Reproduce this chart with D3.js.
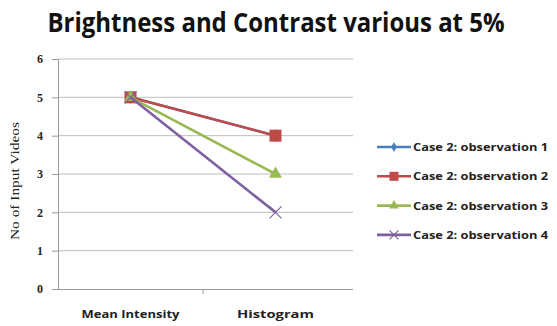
<!DOCTYPE html>
<html>
<head>
<meta charset="utf-8">
<script src="https://cdn.jsdelivr.net/npm/d3@7"></script>
<style>
  html, body { margin: 0; padding: 0; background: #fff; }
  svg { display: block; }
</style>
</head>
<body>
<svg id="chart" width="557" height="326"></svg>
<script>
// Chart data
const categories = ["Mean Intensity", "Histogram"];
const seriesNames = [
  "Case 2: observation 1",
  "Case 2: observation 2",
  "Case 2: observation 3",
  "Case 2: observation 4"
];
const obs1 = [5, 4];
const obs2 = [5, 4];
const obs3 = [5, 3];
const obs4 = [5, 2];
const yTicks = [0, 1, 2, 3, 4, 5, 6];
const titleText = "Brightness and Contrast various at 5%";
const yLabel = "No of Input Videos";

const seriesValues = [obs1, obs2, obs3, obs4];
const colors = ["#4a7ebb", "#be4b48", "#98b954", "#7d60a0"];
const markers = ["diamond", "square", "triangle", "cross"];

const svg = d3.select("#chart");
const plot = { left: 58, right: 348, top: 59, bottom: 289 };

const x = d3.scaleBand().domain(categories).range([plot.left, plot.right]);
const y = d3.scaleLinear().domain([0, 6]).range([plot.bottom, plot.top]);

// Fit a text element to a given width by squeezing glyphs
function fit(sel, w) {
  sel.attr("textLength", w).attr("lengthAdjust", "spacingAndGlyphs");
}

// Title
svg.append("text")
  .attr("x", 276).attr("y", 32)
  .attr("text-anchor", "middle")
  .style("font-family", "'Open Sans', sans-serif")
  .style("font-weight", "bold")
  .style("font-size", "26px")
  .attr("fill", "#111")
  .text(titleText)
  .call(fit, 457);

// Gridlines
svg.append("g")
  .selectAll("line")
  .data(yTicks.filter(d => d > 0))
  .join("line")
  .attr("x1", plot.left).attr("x2", 353)
  .attr("y1", d => y(d)).attr("y2", d => y(d))
  .attr("stroke", "#bdbdbd").attr("stroke-width", 1);

// Y axis
const yAxis = svg.append("g")
  .attr("transform", `translate(${plot.left},0)`)
  .call(d3.axisLeft(y).tickValues(yTicks).tickSize(6).tickPadding(9).tickFormat(d3.format("d")));
yAxis.select(".domain").attr("stroke", "#9a9a9a");
yAxis.selectAll(".tick line").attr("stroke", "#9a9a9a");
yAxis.selectAll(".tick text")
  .style("font-family", "'Liberation Serif', serif")
  .style("font-weight", "bold")
  .style("font-size", "12px")
  .attr("fill", "#222");

// X axis
const xAxis = svg.append("g")
  .attr("transform", `translate(0,${plot.bottom})`)
  .call(d3.axisBottom(x).tickSize(0).tickPadding(22));
xAxis.select(".domain").attr("d", `M${plot.left},0.5H353`).attr("stroke", "#9a9a9a");
xAxis.selectAll(".tick text")
  .style("font-family", "'Open Sans', sans-serif")
  .style("font-weight", "bold")
  .style("font-size", "10.5px")
  .attr("fill", "#222")
  .each(function (d, i) { d3.select(this).call(fit, i === 0 ? 98 : 77); });
// Category boundary tick marks
xAxis.append("g").selectAll("line")
  .data([x.range()[0] + x.bandwidth()])
  .join("line")
  .attr("x1", d => d).attr("x2", d => d)
  .attr("y1", 0).attr("y2", 5)
  .attr("stroke", "#9a9a9a");

// Y axis title
svg.append("text")
  .attr("transform", "translate(19,181) rotate(-90)")
  .attr("text-anchor", "middle")
  .style("font-family", "'Liberation Serif', serif")
  .style("font-size", "13px")
  .attr("fill", "#222")
  .text(yLabel)
  .call(fit, 118);

// Marker drawing
function drawMarker(g, type, color, cx, cy, r) {
  if (type === "diamond") {
    g.append("path").attr("d", d3.symbol(d3.symbolDiamond, r * r * 1.4)()).attr("transform", `translate(${cx},${cy})`).attr("fill", color);
  } else if (type === "square") {
    g.append("rect").attr("x", cx - r).attr("y", cy - r).attr("width", 2 * r).attr("height", 2 * r).attr("fill", color);
  } else if (type === "triangle") {
    g.append("path").attr("d", d3.symbol(d3.symbolTriangle, r * r * 2)()).attr("transform", `translate(${cx},${cy})`).attr("fill", color);
  } else {
    g.append("path").attr("d", `M${cx - r},${cy - r}L${cx + r},${cy + r}M${cx - r},${cy + r}L${cx + r},${cy - r}`)
      .attr("stroke", color).attr("stroke-width", 1.2);
  }
}

const line = d3.line()
  .x((d, i) => x(categories[i]) + x.bandwidth() / 2)
  .y(d => y(d));

const series = svg.append("g");
seriesValues.forEach((vals, s) => {
  const g = series.append("g");
  g.append("path").datum(vals)
    .attr("d", line)
    .attr("fill", "none")
    .attr("stroke", colors[s])
    .attr("stroke-width", 2.6);
  vals.forEach((v, i) => drawMarker(g, markers[s], colors[s], x(categories[i]) + x.bandwidth() / 2, y(v), 6));
});

// Legend
const legend = svg.append("g");
seriesNames.forEach((name, s) => {
  const ly = 147 + s * 29.3;
  const g = legend.append("g");
  g.append("line").attr("x1", 377).attr("x2", 411).attr("y1", ly).attr("y2", ly)
    .attr("stroke", colors[s]).attr("stroke-width", 2.6);
  drawMarker(g, markers[s], colors[s], 394, ly, 4.5);
  g.append("text")
    .attr("x", 413).attr("y", ly + 4)
    .style("font-family", "'Open Sans', sans-serif")
    .style("font-weight", "bold")
    .style("font-size", "11px")
    .attr("fill", "#222")
    .text(name)
    .call(fit, 135);
});
</script>
</body>
</html>
